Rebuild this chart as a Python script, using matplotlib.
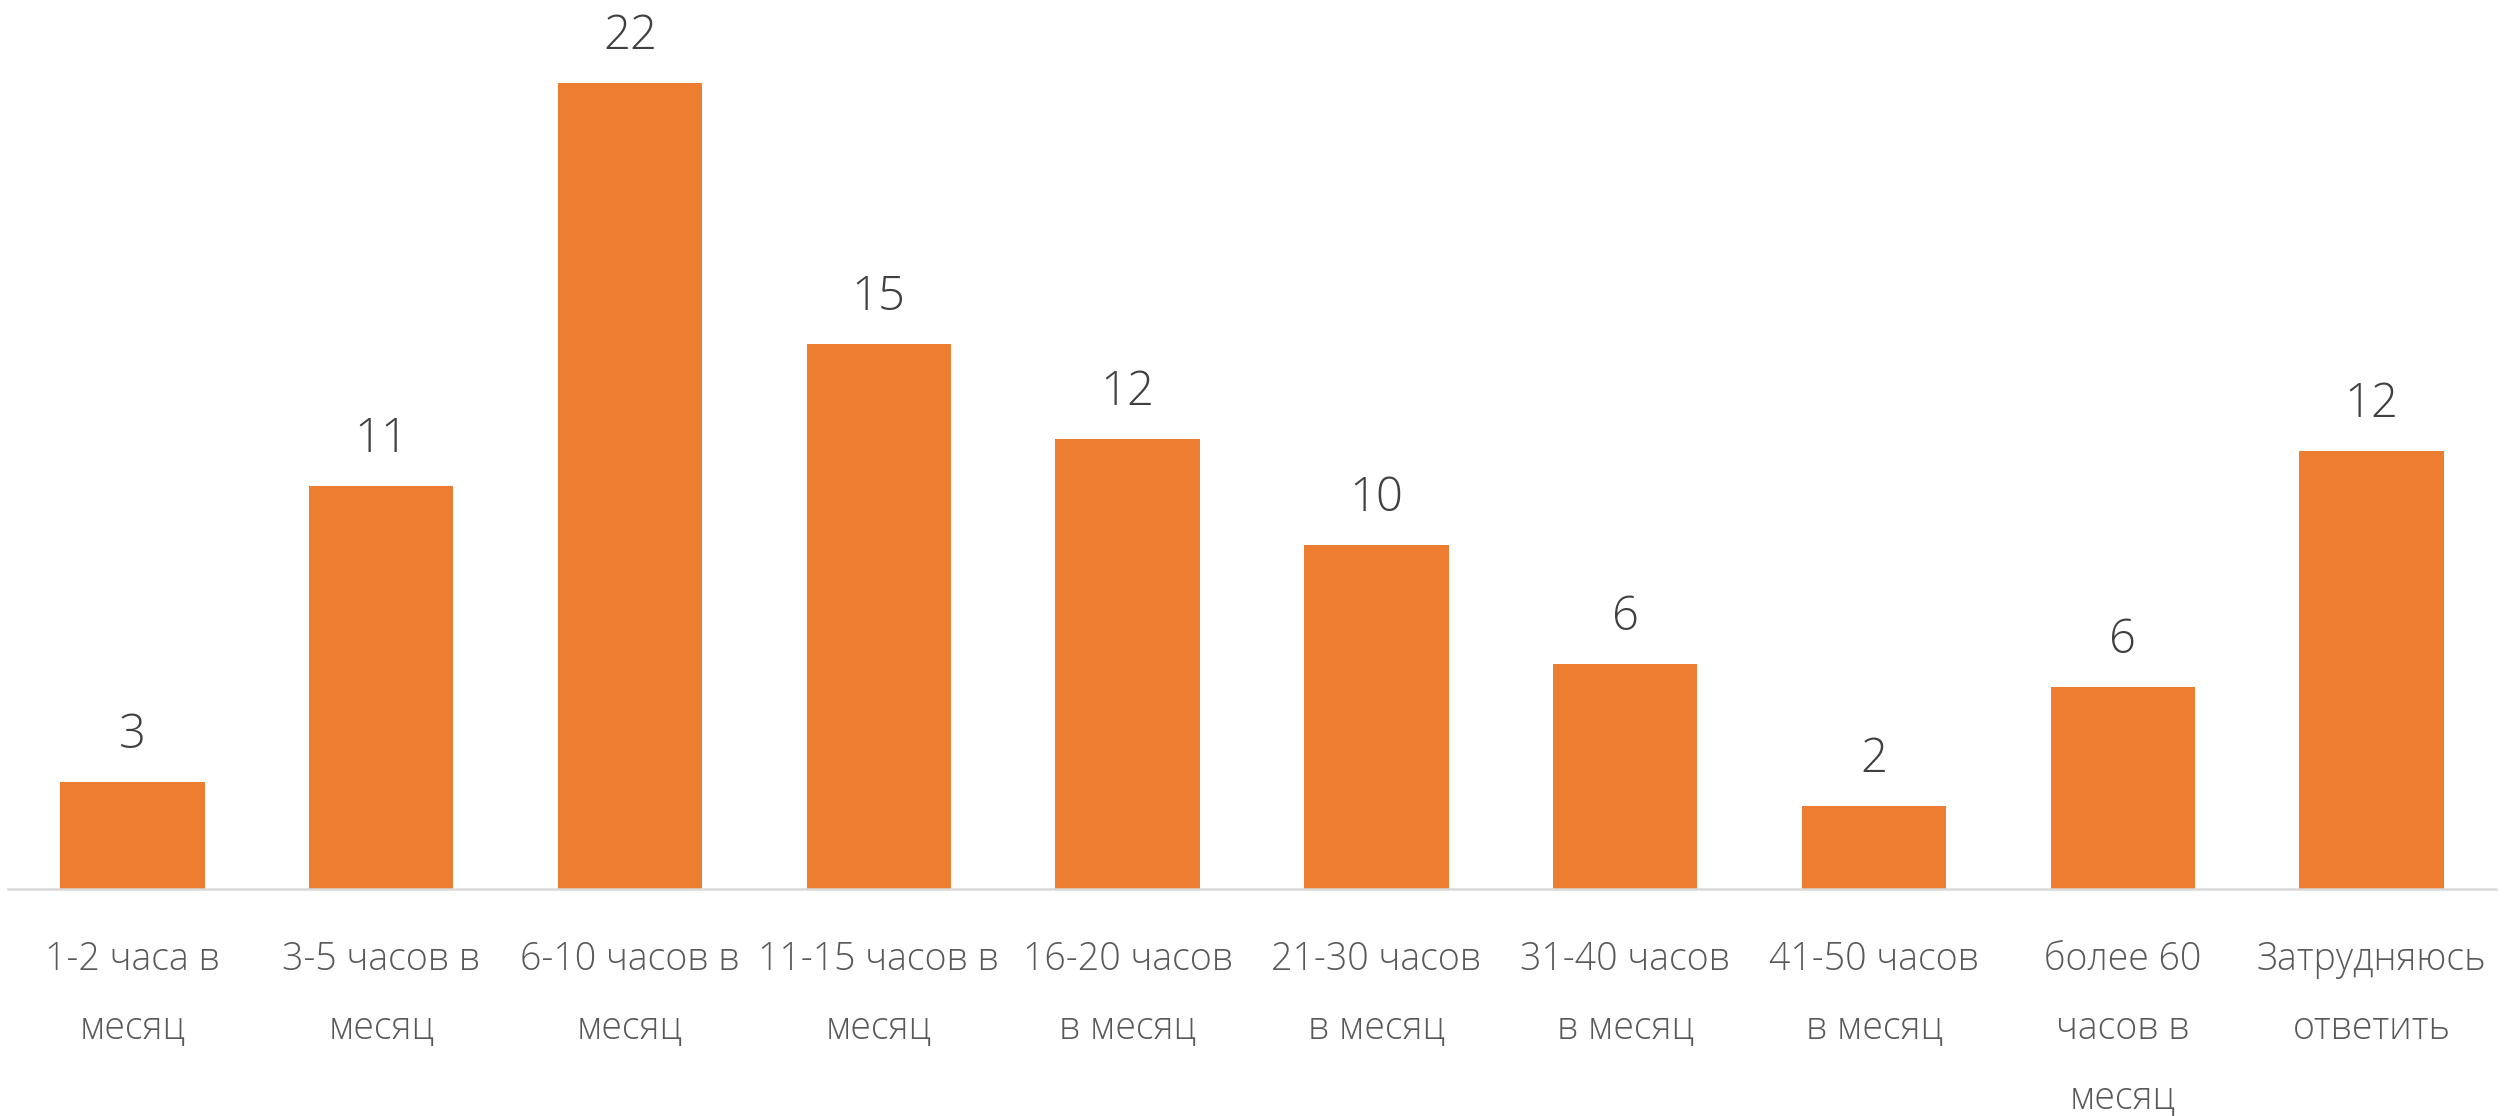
import matplotlib
matplotlib.use("Agg")
import matplotlib.pyplot as plt

# categories and shares (%)
categories = [
    "1-2 часа в\nмесяц",
    "3-5 часов в\nмесяц",
    "6-10 часов в\nмесяц",
    "11-15 часов в\nмесяц",
    "16-20 часов\nв месяц",
    "21-30 часов\nв месяц",
    "31-40 часов\nв месяц",
    "41-50 часов\nв месяц",
    "более 60\nчасов в\nмесяц",
    "Затрудняюсь\nответить",
]
values = [2.96, 11.16, 22.33, 15.10, 12.47, 9.53, 6.23, 2.30, 5.60, 12.13]

plt.rcParams['font.family'] = ['Open Sans', 'DejaVu Sans']

fig = plt.figure(figsize=(25.04, 11.16), dpi=100)
ax = fig.add_axes([8 / 2504, 1 - 889 / 1116, 2488 / 2504, 889 / 1116])

x = list(range(len(categories)))
bars = ax.bar(x, values, width=0.58, color="#ED7D31", zorder=2)

# data labels
labels = [str(round(v)) for v in values]
ax.bar_label(bars, labels=labels, padding=16, fontsize=34, color="#404040",
             fontweight="light")

ax.set_xlim(-0.5, len(categories) - 0.5)
ax.set_ylim(0, 24.63)

ax.set_xticks(x)
ax.set_xticklabels(categories, fontsize=27, color="#595959", linespacing=2.05,
                   fontweight="light")
ax.tick_params(axis="x", length=0, pad=37)
ax.set_yticks([])

for s in ["top", "left", "right"]:
    ax.spines[s].set_visible(False)
ax.spines["bottom"].set_color("#D9D9D9")
ax.spines["bottom"].set_linewidth(1.8)

fig.savefig("out.png", dpi=100)
